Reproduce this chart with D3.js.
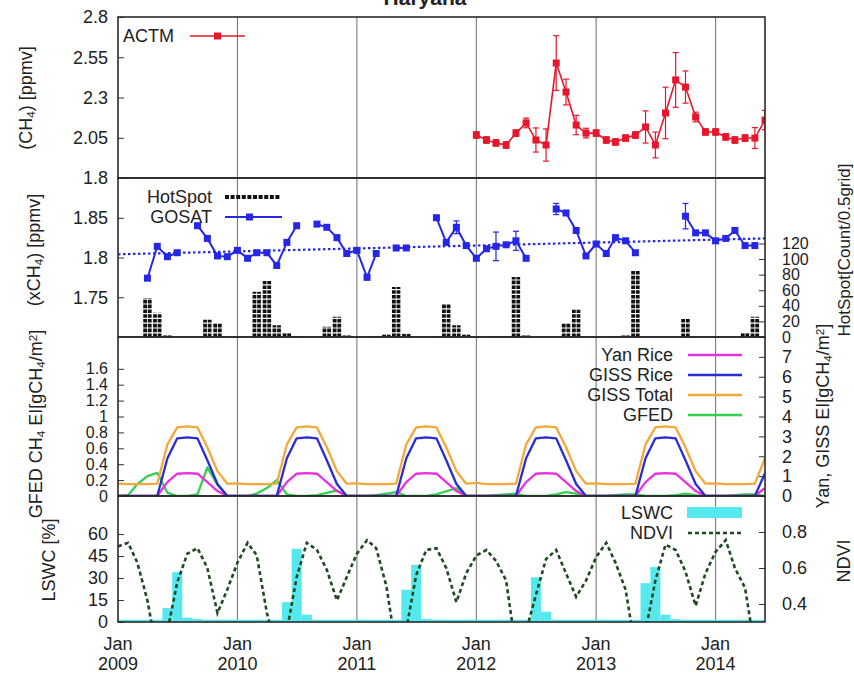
<!DOCTYPE html>
<html><head><meta charset="utf-8">
<script src="https://cdn.jsdelivr.net/npm/d3@7"></script>
<style>
body{margin:0;background:#fff}
text{font-family:"Liberation Sans",Arial,Helvetica,sans-serif;fill:#222}
</style></head><body>
<svg id="chart" width="854" height="674"></svg>
<script>
// ---------- data ----------
const titleText = "Haryana";
const yearLabels = ["2009", "2010", "2011", "2012", "2013", "2014"];

// ACTM surface CH4 (ppmv), monthly from Jan 2012
const actmStart = "2012-01";
const actmValues = [2.067, 2.036, 2.018, 2.005, 2.079, 2.142, 2.036, 2.005, 2.514, 2.334, 2.129, 2.079,
                    2.079, 2.036, 2.024, 2.048, 2.067, 2.117, 2.005, 2.204, 2.409, 2.365, 2.179, 2.086,
                    2.086, 2.055, 2.036, 2.048, 2.048, 2.160];
const actmErrors = [0.02, 0.02, 0.02, 0.02, 0.02, 0.03, 0.075, 0.1, 0.17, 0.08, 0.06, 0.03,
                    0.02, 0.02, 0.02, 0.02, 0.02, 0.1, 0.08, 0.16, 0.17, 0.1, 0.03, 0.02,
                    0.02, 0.02, 0.02, 0.02, 0.065, 0.06];

// GOSAT xCH4 (ppmv), monthly from Apr 2009; null = no retrieval
const gosatStart = "2009-04";
const gosatValues = [1.774, 1.814, 1.801, 1.806, null, 1.840, 1.824, 1.802, 1.801,
                     1.809, 1.799, 1.806, 1.806, 1.790, 1.819, 1.840, null, 1.842, 1.838, 1.825, 1.805,
                     1.809, 1.775, 1.805, null, 1.812, 1.812, null, null, 1.850, 1.819, 1.838, 1.815,
                     1.799, 1.811, 1.814, 1.816, 1.821, 1.799, null, null, 1.861, 1.856, 1.834, 1.802,
                     1.817, 1.805, 1.825, 1.821, 1.806, null, null, null, null, 1.852, 1.831, 1.831,
                     1.821, 1.824, 1.834, 1.815, 1.815];
const gosatErrors = [0, 0, 0, 0, 0, 0, 0, 0, 0,
                     0, 0, 0, 0, 0, 0, 0, 0, 0, 0, 0, 0,
                     0, 0, 0, 0, 0, 0, 0, 0, 0, 0, 0.008, 0,
                     0, 0, 0.018, 0, 0.012, 0, 0, 0, 0.007, 0, 0, 0,
                     0, 0, 0, 0, 0, 0, 0, 0, 0, 0.016, 0, 0,
                     0, 0, 0, 0, 0];
const gosatTrendEnds = [1.804, 1.824];   // linear trend at Jan 2009 and Jun 2014

// fire hotspot counts per 0.5 grid
const hotspotMonths = ["2009-04", "2009-05", "2009-06", "2009-10", "2009-11",
                       "2010-03", "2010-04", "2010-05", "2010-06", "2010-07", "2010-10", "2010-11", "2010-12",
                       "2011-03", "2011-04", "2011-05", "2011-06", "2011-09", "2011-10", "2011-11", "2011-12",
                       "2012-03", "2012-04", "2012-05", "2012-06", "2012-10", "2012-11",
                       "2013-03", "2013-04", "2013-05", "2013-10", "2014-04", "2014-05"];
const hotspotCounts = [50, 31, 2, 22, 18,
                       58, 72, 15, 6, 1, 13, 26, 2,
                       1, 3, 64, 4, 1, 42, 15, 3,
                       1, 1, 77, 2, 18, 35,
                       1, 2, 86, 23, 5, 26];

// emissions, monthly from Jan 2009
const emisStart = "2009-01";
const yanRice = [
  0, 0, 0, 0, 0, 0.7, 1.12, 1.15, 1.12, 0.7, 0.25, 0,
  0, 0, 0, 0, 0, 0.7, 1.12, 1.15, 1.12, 0.7, 0.25, 0,
  0, 0, 0, 0, 0, 0.7, 1.12, 1.15, 1.12, 0.7, 0.25, 0,
  0, 0, 0, 0, 0, 0.7, 1.12, 1.15, 1.12, 0.7, 0.25, 0,
  0, 0, 0, 0, 0, 0.7, 1.12, 1.15, 1.12, 0.7, 0.25, 0,
  0, 0, 0, 0, 0, 0.4];
const gissRice = [
  0, 0, 0, 0, 0, 1.9, 2.9, 2.95, 2.9, 1.8, 0.6, 0,
  0, 0, 0, 0, 0, 1.9, 2.9, 2.95, 2.9, 1.8, 0.6, 0,
  0, 0, 0, 0, 0, 1.9, 2.9, 2.95, 2.9, 1.8, 0.6, 0,
  0, 0, 0, 0, 0, 1.9, 2.9, 2.95, 2.9, 1.8, 0.6, 0,
  0, 0, 0, 0, 0, 1.9, 2.9, 2.95, 2.9, 1.8, 0.6, 0,
  0, 0, 0, 0, 0, 1.15];
const gissTotal = [
  0.62, 0.6, 0.6, 0.6, 0.62, 2.6, 3.45, 3.5, 3.45, 2.45, 1.25, 0.62,
  0.64, 0.6, 0.6, 0.6, 0.62, 2.6, 3.45, 3.5, 3.45, 2.45, 1.25, 0.62,
  0.64, 0.6, 0.6, 0.6, 0.62, 2.6, 3.45, 3.5, 3.45, 2.45, 1.25, 0.62,
  0.66, 0.6, 0.6, 0.6, 0.62, 2.6, 3.45, 3.5, 3.45, 2.45, 1.25, 0.62,
  0.64, 0.6, 0.6, 0.6, 0.62, 2.6, 3.45, 3.5, 3.45, 2.45, 1.25, 0.62,
  0.64, 0.6, 0.6, 0.6, 0.62, 1.9];
const gfed = [
  0, 0.01, 0.15, 0.25, 0.29, 0.04, 0, 0, 0.02, 0.36, 0.14, 0,
  0, 0, 0.03, 0.1, 0.2, 0.02, 0, 0, 0.01, 0.04, 0.07, 0,
  0, 0, 0.01, 0.03, 0.05, 0, 0, 0, 0.02, 0.06, 0.1, 0,
  0, 0, 0.01, 0.02, 0.03, 0, 0, 0, 0.02, 0.05, 0.03, 0,
  0, 0, 0.01, 0.02, 0.02, 0, 0, 0, 0.01, 0.03, 0.01, 0,
  0, 0, 0.01, 0.02, 0.02, 0];

// land surface water coverage (%) and NDVI
const lswcMonths = ["2009-06", "2009-07", "2009-08", "2009-09",
                    "2010-06", "2010-07", "2010-08",
                    "2011-06", "2011-07", "2011-08",
                    "2012-07", "2012-08",
                    "2013-06", "2013-07", "2013-08", "2013-09"];
const lswcValues = [9.5, 34, 3, 2,
                    13.5, 50, 5,
                    22, 39, 2,
                    30.5, 7,
                    26.5, 37.5, 5, 2];
const ndviStart = "2009-01";
const ndviValues = [
  0.72, 0.74, 0.63, 0.42, 0.12, 0.25, 0.52, 0.68, 0.71, 0.60, 0.35, 0.48,
  0.63, 0.74, 0.67, 0.35, 0.15, 0.25, 0.55, 0.74, 0.70, 0.59, 0.42, 0.55,
  0.68, 0.755, 0.71, 0.50, 0.15, 0.26, 0.56, 0.70, 0.71, 0.60, 0.41, 0.57,
  0.67, 0.70, 0.64, 0.53, 0.15, 0.25, 0.45, 0.65, 0.70, 0.57, 0.44, 0.53,
  0.66, 0.74, 0.63, 0.48, 0.15, 0.25, 0.53, 0.73, 0.70, 0.58, 0.39, 0.57,
  0.69, 0.755, 0.60, 0.49, 0.15, 0.26];

// ---------- helpers ----------
const ym = s => { const [y, m] = s.split("-").map(Number); return new Date(y, m - 1, 1); };
const monthSeries = (start, values) => {
  const d0 = ym(start);
  return values.map((v, i) => ({ date: new Date(d0.getFullYear(), d0.getMonth() + i, 1), value: v }));
};

// ---------- layout ----------
const svg = d3.select("#chart");
const L = 118, R = 765;
const panels = [
  { top: 17, bottom: 178 },
  { top: 178, bottom: 337 },
  { top: 337, bottom: 496 },
  { top: 496, bottom: 622 }
];

const x = d3.scaleTime().domain([ym("2009-01"), ym("2014-06")]).range([L, R]);

const y1 = d3.scaleLinear().domain([1.8, 2.8]).range([panels[0].bottom, panels[0].top]);
const y2 = d3.scaleLinear().domain([1.7, 1.9]).range([panels[1].bottom, panels[1].top]);
const yHot = d3.scaleLinear().domain([0, 204]).range([panels[1].bottom, panels[1].top]);
const y3L = d3.scaleLinear().domain([0, 2]).range([panels[2].bottom, panels[2].top]);
const y3R = d3.scaleLinear().domain([0, 8]).range([panels[2].bottom, panels[2].top]);
const y4L = d3.scaleLinear().domain([0, 86]).range([panels[3].bottom, panels[3].top]);
const y4R = d3.scaleLinear().domain([0.3, 1.0]).range([panels[3].bottom, panels[3].top]);

const C = {
  actm: "#e8162c", gosat: "#2626e6", yan: "#e830e0", gissRice: "#2a2ad6",
  gissTotal: "#f4a83a", gfed: "#30d050", lswc: "#55e8ee", ndvi: "#1e4a1e", grid: "#7a7a7a", frame: "#2a2a2a"
};
const FS = 18;

// clip paths per panel
const defs = svg.append("defs");
panels.forEach((p, i) => {
  defs.append("clipPath").attr("id", "clip" + i)
    .append("rect").attr("x", L).attr("y", p.top).attr("width", R - L).attr("height", p.bottom - p.top);
});

// title (sits at the top edge)
svg.append("text").attr("x", 425).attr("y", 5).attr("text-anchor", "middle")
  .attr("font-size", 21).attr("font-weight", "bold").text(titleText);

// vertical year grid lines
const janDates = yearLabels.map(y => ym(y + "-01"));
svg.append("g").selectAll("line").data(janDates.slice(1)).join("line")
  .attr("x1", d => x(d)).attr("x2", d => x(d))
  .attr("y1", panels[0].top).attr("y2", panels[3].bottom)
  .attr("stroke", C.grid).attr("stroke-width", 1.1);

// ---------- axes ----------
function leftAxis(scale, values, size) {
  const g = svg.append("g").attr("transform", `translate(${L},0)`)
    .call(d3.axisLeft(scale).tickValues(values).tickSize(-6).tickPadding(10).tickFormat(d3.format("~g")));
  g.select(".domain").remove();
  g.selectAll(".tick line").attr("stroke", "#333");
  g.selectAll("text").attr("font-size", size || FS).attr("fill", "#222").attr("font-family", null);
  return g;
}
function rightAxis(scale, values, size) {
  const g = svg.append("g").attr("transform", `translate(${R},0)`)
    .call(d3.axisRight(scale).tickValues(values).tickSize(-6).tickPadding(17).tickFormat(d3.format("~g")));
  g.select(".domain").remove();
  g.selectAll(".tick line").attr("stroke", "#333");
  g.selectAll("text").attr("font-size", size || FS).attr("fill", "#222").attr("font-family", null);
  return g;
}
leftAxis(y1, [1.8, 2.05, 2.3, 2.55, 2.8]);
leftAxis(y2, [1.75, 1.8, 1.85]);
leftAxis(y3L, [0, 0.2, 0.4, 0.6, 0.8, 1, 1.2, 1.4, 1.6], 16);
leftAxis(y4L, [0, 15, 30, 45, 60]);
rightAxis(yHot, [0, 20, 40, 60, 80, 100, 120], 16);
rightAxis(y3R, [0, 1, 2, 3, 4, 5, 6, 7]);
rightAxis(y4R, [0.4, 0.6, 0.8]);

// bottom date labels
const xl = svg.append("g");
xl.selectAll("text.mon").data(janDates).join("text").attr("class", "mon")
  .attr("x", d => x(d)).attr("y", 650).attr("text-anchor", "middle").attr("font-size", FS).text("Jan");
xl.selectAll("text.yr").data(janDates).join("text").attr("class", "yr")
  .attr("x", d => x(d)).attr("y", 670).attr("text-anchor", "middle").attr("font-size", FS)
  .text(d => d.getFullYear());

// ---------- panel 1: ACTM ----------
const actm = monthSeries(actmStart, actmValues).map((d, i) => ({ ...d, err: actmErrors[i] }));
const g1 = svg.append("g").attr("clip-path", "url(#clip0)");
g1.selectAll("g.eb").data(actm).join("g").attr("class", "eb").each(function (d) {
  const g = d3.select(this), cx = x(d.date);
  g.append("line").attr("x1", cx).attr("x2", cx).attr("y1", y1(d.value - d.err)).attr("y2", y1(d.value + d.err));
  g.append("line").attr("x1", cx - 3).attr("x2", cx + 3).attr("y1", y1(d.value - d.err)).attr("y2", y1(d.value - d.err));
  g.append("line").attr("x1", cx - 3).attr("x2", cx + 3).attr("y1", y1(d.value + d.err)).attr("y2", y1(d.value + d.err));
}).selectAll("line").attr("stroke", C.actm).attr("stroke-width", 1.2);
g1.append("path").datum(actm)
  .attr("d", d3.line().x(d => x(d.date)).y(d => y1(d.value)))
  .attr("fill", "none").attr("stroke", C.actm).attr("stroke-width", 1.6);
g1.selectAll("rect.pt").data(actm).join("rect").attr("class", "pt")
  .attr("x", d => x(d.date) - 3.5).attr("y", d => y1(d.value) - 3.5)
  .attr("width", 7).attr("height", 7).attr("fill", C.actm);

// legend
svg.append("text").attr("x", 123).attr("y", 42).attr("font-size", FS).text("ACTM");
svg.append("line").attr("x1", 190).attr("x2", 245).attr("y1", 36).attr("y2", 36)
  .attr("stroke", C.actm).attr("stroke-width", 1.6);
svg.append("rect").attr("x", 214).attr("y", 32.5).attr("width", 7).attr("height", 7).attr("fill", C.actm);

// ---------- panel 2: GOSAT + hotspots ----------
const g2 = svg.append("g").attr("clip-path", "url(#clip1)");
const hot = hotspotMonths.map((m, i) => ({ date: ym(m), value: hotspotCounts[i] }));
g2.selectAll("g.hs").data(hot).join("g").attr("class", "hs").each(function (d) {
  const g = d3.select(this), cx = x(d.date);
  [-2.3, 2.3].forEach(off => {
    g.append("line").attr("x1", cx + off).attr("x2", cx + off)
      .attr("y1", yHot(0)).attr("y2", yHot(d.value))
      .attr("stroke", "#111").attr("stroke-width", 3.8).attr("stroke-dasharray", "3.6 1.2");
  });
});

// trend line
g2.append("line")
  .attr("x1", x.range()[0]).attr("x2", x.range()[1])
  .attr("y1", y2(gosatTrendEnds[0])).attr("y2", y2(gosatTrendEnds[1]))
  .attr("stroke", C.gosat).attr("stroke-width", 2.2).attr("stroke-dasharray", "2.5 2.5");

const gosat = monthSeries(gosatStart, gosatValues).map((d, i) => ({ ...d, err: gosatErrors[i] }));
const gosatPts = gosat.filter(d => d.value != null);
gosatPts.filter(d => d.err > 0).forEach(d => {
  const cx = x(d.date);
  const lo = y2(d.value - d.err), hi = y2(d.value + d.err);
  g2.append("line").attr("x1", cx).attr("x2", cx).attr("y1", lo).attr("y2", hi);
  g2.append("line").attr("x1", cx - 3).attr("x2", cx + 3).attr("y1", lo).attr("y2", lo);
  g2.append("line").attr("x1", cx - 3).attr("x2", cx + 3).attr("y1", hi).attr("y2", hi);
});
g2.selectAll("line:not([stroke])").attr("stroke", C.gosat).attr("stroke-width", 1.2);
g2.append("path").datum(gosat)
  .attr("d", d3.line().defined(d => d.value != null).x(d => x(d.date)).y(d => y2(d.value)))
  .attr("fill", "none").attr("stroke", C.gosat).attr("stroke-width", 2);
g2.selectAll("rect.pt").data(gosatPts).join("rect").attr("class", "pt")
  .attr("x", d => x(d.date) - 3.5).attr("y", d => y2(d.value) - 3.5)
  .attr("width", 7).attr("height", 7).attr("fill", C.gosat);

// legend
svg.append("text").attr("x", 212).attr("y", 203).attr("text-anchor", "end").attr("font-size", FS).text("HotSpot");
svg.append("line").attr("x1", 225).attr("x2", 281).attr("y1", 197).attr("y2", 197)
  .attr("stroke", "#111").attr("stroke-width", 4).attr("stroke-dasharray", "4 1.6");
svg.append("text").attr("x", 212).attr("y", 223).attr("text-anchor", "end").attr("font-size", FS).text("GOSAT");
svg.append("line").attr("x1", 225).attr("x2", 282).attr("y1", 217).attr("y2", 217)
  .attr("stroke", C.gosat).attr("stroke-width", 2);
svg.append("rect").attr("x", 246).attr("y", 213.5).attr("width", 7).attr("height", 7).attr("fill", C.gosat);

// ---------- panel 3: emissions ----------
const g3 = svg.append("g").attr("clip-path", "url(#clip2)");
const emisLines = [
  { values: gfed, scale: y3L, color: C.gfed },
  { values: gissTotal, scale: y3R, color: C.gissTotal },
  { values: yanRice, scale: y3R, color: C.yan },
  { values: gissRice, scale: y3R, color: C.gissRice }
];
emisLines.forEach(s => {
  g3.append("path").datum(monthSeries(emisStart, s.values))
    .attr("d", d3.line().x(d => x(d.date)).y(d => s.scale(d.value)))
    .attr("fill", "none").attr("stroke", s.color).attr("stroke-width", 2.3)
    .attr("stroke-linejoin", "round");
});
const leg3 = [["Yan Rice", C.yan], ["GISS Rice", C.gissRice], ["GISS Total", C.gissTotal], ["GFED", C.gfed]];
leg3.forEach(([name, col], i) => {
  const yy = 355 + i * 20;
  svg.append("text").attr("x", 673).attr("y", yy + 6).attr("text-anchor", "end").attr("font-size", FS).text(name);
  svg.append("line").attr("x1", 688).attr("x2", 742).attr("y1", yy).attr("y2", yy)
    .attr("stroke", col).attr("stroke-width", 2.5);
});

// ---------- panel 4: LSWC + NDVI ----------
const g4 = svg.append("g").attr("clip-path", "url(#clip3)");
const lswc = lswcMonths.map((m, i) => ({ date: ym(m), value: lswcValues[i] }));
g4.selectAll("rect.bar").data(lswc).join("rect").attr("class", "bar")
  .attr("x", d => x(d.date) - 5).attr("width", 10)
  .attr("y", d => y4L(d.value)).attr("height", d => y4L(0) - y4L(d.value))
  .attr("fill", C.lswc);
g4.append("line").attr("x1", L).attr("x2", R).attr("y1", y4L(0) - 1).attr("y2", y4L(0) - 1)
  .attr("stroke", C.lswc).attr("stroke-width", 2.5);
g4.append("path").datum(monthSeries(ndviStart, ndviValues))
  .attr("d", d3.line().x(d => x(d.date)).y(d => y4R(d.value)))
  .attr("fill", "none").attr("stroke", C.ndvi).attr("stroke-width", 2.6).attr("stroke-dasharray", "4 3");

svg.append("text").attr("x", 673).attr("y", 519).attr("text-anchor", "end").attr("font-size", FS).text("LSWC");
svg.append("rect").attr("x", 687).attr("y", 507).attr("width", 55).attr("height", 11).attr("fill", C.lswc);
svg.append("text").attr("x", 673).attr("y", 539).attr("text-anchor", "end").attr("font-size", FS).text("NDVI");
svg.append("line").attr("x1", 688).attr("x2", 742).attr("y1", 533).attr("y2", 533)
  .attr("stroke", C.ndvi).attr("stroke-width", 2.6).attr("stroke-dasharray", "4 3");

// ---------- panel frames ----------
panels.forEach(p => {
  svg.append("rect").attr("x", L).attr("y", p.top).attr("width", R - L).attr("height", p.bottom - p.top)
    .attr("fill", "none").attr("stroke", C.frame).attr("stroke-width", 1.6);
});

// ---------- axis titles ----------
function vLabel(xp, yp, parts, size) {
  const fs = size || FS;
  const t = svg.append("text").attr("transform", `translate(${xp},${yp}) rotate(-90)`)
    .attr("text-anchor", "middle").attr("font-size", fs);
  parts.forEach(([txt, kind]) => {
    const ts = t.append("tspan").text(txt);
    if (kind === "sub") ts.attr("font-size", fs * 0.65).attr("baseline-shift", "-25%");
    if (kind === "sup") ts.attr("font-size", fs * 0.65).attr("baseline-shift", "40%");
  });
}
vLabel(32, 98, [["(CH"], ["4", "sub"], [") [ppmv]"]]);
vLabel(40, 250, [["(xCH"], ["4", "sub"], [") [ppmv]"]]);
vLabel(42, 424, [["GFED CH"], ["4", "sub"], [" EI[gCH"], ["4", "sub"], ["/m"], ["2", "sup"], ["]"]]);
vLabel(55, 560, [["LSWC [%]"]]);
vLabel(850, 250, [["HotSpot[Count/0.5grid]"]], 17);
vLabel(829, 416, [["Yan, GISS EI[gCH"], ["4", "sub"], ["/m"], ["2", "sup"], ["]"]]);
vLabel(850, 561, [["NDVI"]]);
</script>
</body></html>
